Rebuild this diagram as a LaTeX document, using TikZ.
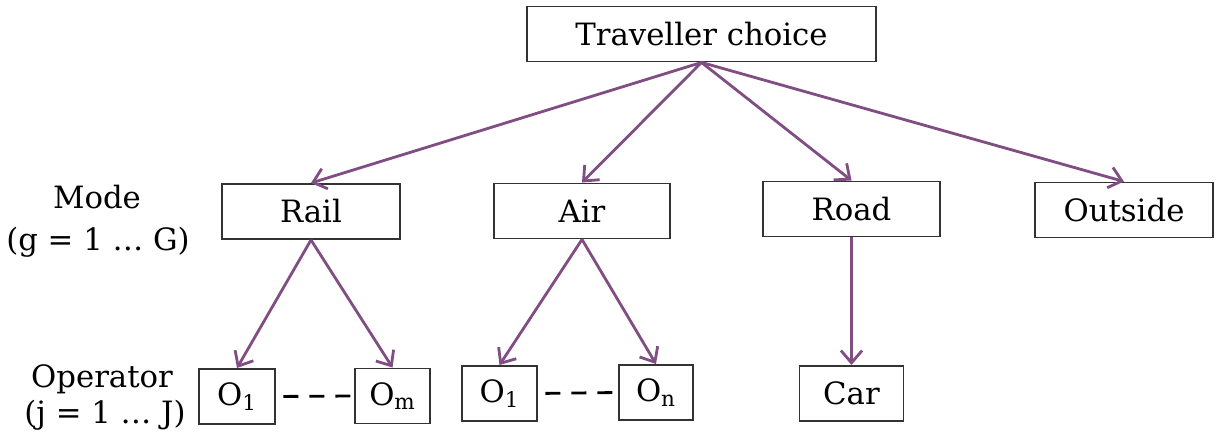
\documentclass[tikz,border=0pt]{standalone}
\usepackage{fontspec}
\setmainfont{DejaVu Serif}
\usetikzlibrary{arrows.meta}
\definecolor{choicepurple}{RGB}{128,78,130}
\tikzset{
  choicebox/.style={draw=black!80, line width=1.1pt, rectangle, minimum height=1.1cm, inner sep=0pt},
  choicearrow/.style={draw=choicepurple, line width=1.6pt, -{Straight Barb[length=7pt,width=12pt,line width=1.6pt]}},
  levellabel/.style={inner sep=0pt}
}
\begin{document}
\begin{tikzpicture}[font=\fontsize{17.5}{21}\selectfont]
\useasboundingbox (0,0) rectangle (24.38,8.76);
% top level
\node (choice) at (14.03,8.08) [choicebox, minimum width=6.98cm]{Traveller choice};
% modes
\node (rail) at (6.22,4.53) [choicebox, minimum width=3.56cm]{Rail};
\node (air) at (11.64,4.54) [choicebox, minimum width=3.52cm]{Air};
\node (road) at (17.03,4.58) [choicebox, minimum width=3.54cm]{Road};
\node (outside) at (22.48,4.56) [choicebox, minimum width=3.56cm]{Outside};
% operators
\node (railfirst) at (4.74,0.83) [choicebox, minimum width=1.52cm]{O\textsubscript{1}};
\node (raillast) at (7.85,0.84) [choicebox, minimum width=1.50cm]{O\textsubscript{m}};
\node (airfirst) at (9.99,0.89) [choicebox, minimum width=1.50cm]{O\textsubscript{1}};
\node (airlast) at (13.12,0.91) [choicebox, minimum width=1.48cm]{O\textsubscript{n}};
\node (car) at (17.03,0.89) [choicebox, minimum width=2.08cm]{Car};
% level labels
\node (mode) at (1.94,4.82) [levellabel]{Mode};
\node (modeidx) at (1.96,3.92) [levellabel]{(g = 1 \ldots\ G)};
\node (oper) at (2.04,1.18) [levellabel]{Operator};
\node (operidx) at (2.10,0.46) [levellabel]{(j = 1 \ldots\ J)};
% arrows
\draw[choicearrow] (choice.south) -- (rail.north);
\draw[choicearrow] (choice.south) -- (air.north);
\draw[choicearrow] (choice.south) -- (road.north);
\draw[choicearrow] (choice.south) -- (outside.north);
\draw[choicearrow] (rail.south) -- (railfirst.north);
\draw[choicearrow] (rail.south) -- (raillast.north);
\draw[choicearrow] (air.south) -- (airfirst.north);
\draw[choicearrow] (air.south) -- (airlast.north);
\draw[choicearrow] (road.south) -- (car.north);
% dashes between operators
\draw[line width=1.6pt, dash pattern=on 0.3cm off 0.22cm, dash phase=-0.15cm] (railfirst.east) -- (raillast.west);
\draw[line width=1.6pt, dash pattern=on 0.3cm off 0.22cm, dash phase=-0.15cm] (airfirst.east) -- (airlast.west);
\end{tikzpicture}
\end{document}
